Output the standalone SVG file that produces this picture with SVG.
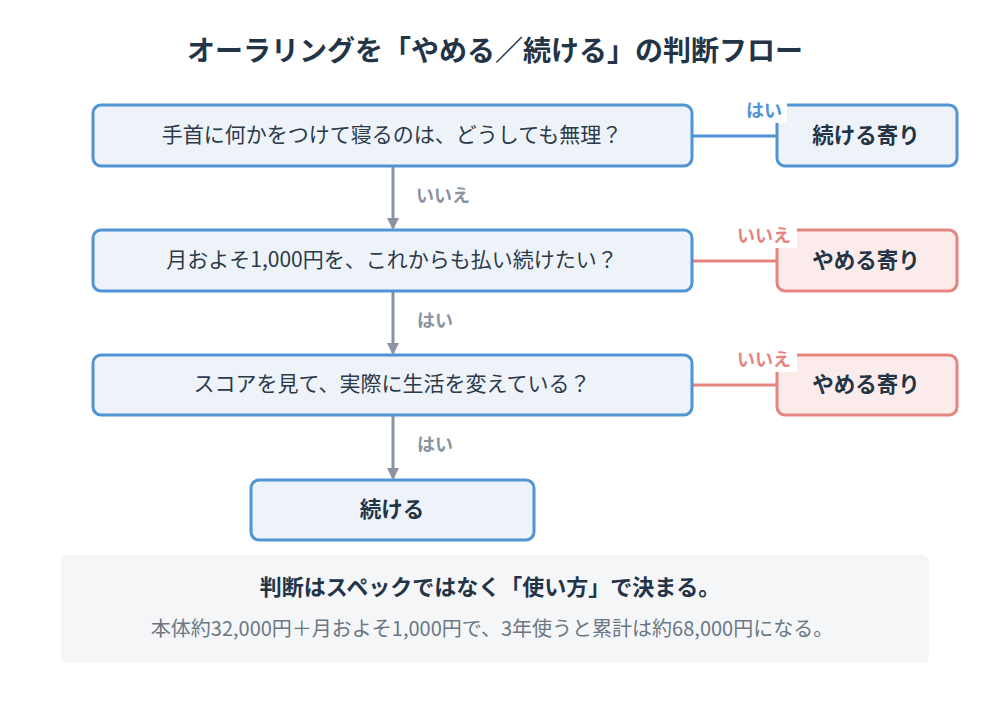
<svg xmlns="http://www.w3.org/2000/svg" width="990" height="725" viewBox="0 0 990 725">
<style>
text{font-family:"Noto Sans CJK JP","Noto Sans",sans-serif;text-anchor:middle;dominant-baseline:central}
.q{fill:#eef3fa;stroke:#5094d3;stroke-width:3}
.n{fill:#fbeceb;stroke:#e48580;stroke-width:3}
.qt{font-size:21px;fill:#2c3a4a}
.bt{font-size:21.5px;font-weight:bold;fill:#243447}
.lb{font-size:18px;font-weight:bold}
</style>
<defs><marker id="ar" markerWidth="12" markerHeight="12" refX="10" refY="6" orient="auto" markerUnits="userSpaceOnUse"><path d="M0,0L12,6L0,12z" fill="#8a94a0"/></marker></defs>
<rect width="990" height="725" fill="#fff"/>
<text x="495" y="49" style="font-size:28px;font-weight:bold;fill:#243447">オーラリングを「やめる／続ける」の判断フロー</text>
<g id="connectors">
<g stroke="#8a94a0" stroke-width="3" marker-end="url(#ar)">
<line x1="393" y1="167" x2="393" y2="228"/>
<line x1="393" y1="292" x2="393" y2="353"/>
<line x1="393" y1="416" x2="393" y2="478"/>
</g>
<g class="lb" fill="#8a94a0"><text x="443" y="194">いいえ</text><text x="435" y="319">はい</text><text x="435" y="443">はい</text></g>
<line x1="692" y1="136" x2="777" y2="136" stroke="#5094d3" stroke-width="3"/>
<line x1="692" y1="261" x2="777" y2="261" stroke="#e48580" stroke-width="3"/>
<line x1="692" y1="385" x2="777" y2="385" stroke="#e48580" stroke-width="3"/>
</g>
<g id="q1"><rect class="q" x="93" y="105" width="599" height="61" rx="8"/><text x="392" y="133" class="qt">手首に何かをつけて寝るのは、どうしても無理？</text></g>
<g id="q2"><rect class="q" x="93" y="230" width="599" height="61" rx="8"/><text x="392" y="258" class="qt">月およそ1,000円を、これからも払い続けたい？</text></g>
<g id="q3"><rect class="q" x="93" y="355" width="599" height="60" rx="8"/><text x="392" y="382" class="qt">スコアを見て、実際に生活を変えている？</text></g>
<g id="r1"><rect class="q" x="777" y="105" width="180" height="61" rx="8"/><text x="866" y="133" class="bt">続ける寄り</text></g>
<g id="r2"><rect class="n" x="777" y="230" width="180" height="61" rx="8"/><text x="866" y="258" class="bt">やめる寄り</text></g>
<g id="r3"><rect class="n" x="777" y="355" width="180" height="60" rx="8"/><text x="866" y="382" class="bt">やめる寄り</text></g>
<g id="end"><rect class="q" x="251" y="480" width="283" height="60" rx="8"/><text x="392" y="507" class="bt">続ける</text></g>
<g id="edge-labels">
<rect x="741" y="99" width="46" height="24" fill="#fff"/>
<text x="764" y="109" class="lb" fill="#5094d3">はい</text>
<rect x="733" y="224" width="64" height="24" fill="#fff"/>
<text x="764" y="234" class="lb" fill="#e48580">いいえ</text>
<rect x="733" y="348" width="64" height="24" fill="#fff"/>
<text x="764" y="358" class="lb" fill="#e48580">いいえ</text>
</g>
<g id="note"><rect x="61" y="555" width="868" height="108" rx="6" fill="#f4f6f8"/>
<text x="490" y="585" style="font-size:22px;font-weight:bold;fill:#243447">判断はスペックではなく「使い方」で決まる。</text>
<text x="492" y="627" style="font-size:20px;fill:#6b7785">本体約32,000円＋月およそ1,000円で、3年使うと累計は約68,000円になる。</text></g>
</svg>
